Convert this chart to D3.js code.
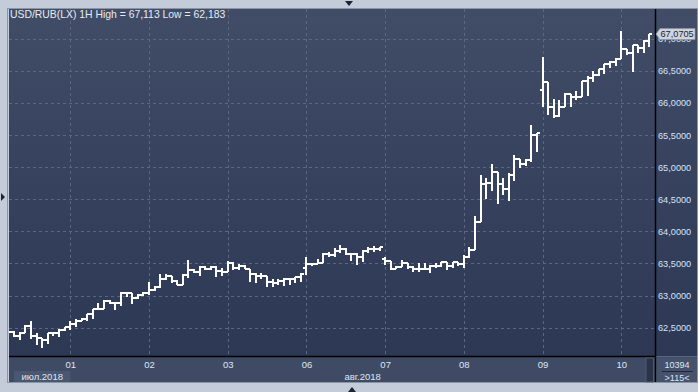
<!DOCTYPE html>
<html><head><meta charset="utf-8">
<script src="https://cdn.jsdelivr.net/npm/d3@7"></script>
<style>html,body{margin:0;padding:0;background:#c3ccd8;overflow:hidden}svg{display:block}</style>
</head><body>
<svg id="c" width="698" height="392"></svg>
<script>
const titleText = "USD/RUB(LX) 1H High = 67,113 Low = 62,183";
const opens = [62.440,62.438,62.371,62.423,62.527,62.371,62.335,62.309,62.413,62.423,
62.465,62.506,62.558,62.610,62.631,62.709,62.787,62.787,62.921,62.880,
62.880,63.036,63.036,62.958,63.009,63.036,63.087,63.139,63.253,63.305,
63.232,63.170,63.325,63.398,63.372,63.440,63.414,63.450,63.388,63.372,
63.503,63.425,63.461,63.414,63.336,63.305,63.305,63.217,63.201,63.232,
63.253,63.253,63.284,63.425,63.487,63.492,63.503,63.647,63.632,63.699,
63.720,63.647,63.647,63.596,63.699,63.720,63.720,63.565,63.538,63.409,
63.440,63.503,63.440,63.414,63.414,63.414,63.466,63.466,63.528,63.466,
63.518,63.487,63.606,63.710,64.141,64.732,64.748,64.929,64.732,64.654,
64.877,65.121,65.044,65.110,65.500,66.195,66.329,65.931,65.795,65.940,
66.138,66.096,66.096,66.345,66.382,66.433,66.522,66.605,66.641,66.678,
66.833,66.771,66.900,66.849,66.967];
const highs = [62.460,62.445,62.438,62.538,62.604,62.413,62.345,62.423,62.434,62.475,
62.516,62.604,62.631,62.647,62.720,62.790,62.880,62.931,62.931,62.906,
63.061,63.061,63.046,63.025,63.056,63.207,63.150,63.336,63.336,63.305,
63.240,63.336,63.554,63.420,63.461,63.461,63.466,63.466,63.425,63.539,
63.528,63.487,63.476,63.414,63.347,63.357,63.305,63.258,63.253,63.279,
63.269,63.295,63.347,63.596,63.512,63.565,63.668,63.683,63.736,63.788,
63.736,63.668,63.668,63.710,63.761,63.772,63.761,63.606,63.538,63.461,
63.554,63.503,63.461,63.503,63.503,63.476,63.503,63.528,63.528,63.518,
63.518,63.632,63.761,64.239,64.877,64.826,65.048,64.929,64.826,64.903,
65.188,65.121,65.121,65.655,65.535,66.718,66.329,66.060,66.044,66.158,
66.138,66.189,66.345,66.418,66.500,66.527,66.605,66.656,66.693,67.113,
66.833,66.900,66.900,66.978,67.072];
const lows = [62.420,62.357,62.309,62.413,62.320,62.231,62.183,62.247,62.371,62.351,
62.444,62.465,62.506,62.600,62.610,62.636,62.776,62.787,62.869,62.776,
62.838,62.983,62.869,62.947,62.998,63.009,63.067,63.113,63.243,63.201,
63.160,63.165,63.269,63.350,63.305,63.400,63.395,63.295,63.305,63.360,
63.398,63.398,63.409,63.207,63.191,63.253,63.129,63.129,63.165,63.150,
63.165,63.201,63.217,63.321,63.461,63.487,63.503,63.596,63.606,63.658,
63.632,63.544,63.476,63.528,63.668,63.683,63.699,63.476,63.398,63.409,
63.440,63.409,63.372,63.372,63.398,63.357,63.425,63.440,63.398,63.425,
63.461,63.425,63.580,63.710,64.141,64.499,64.633,64.421,64.566,64.477,
64.788,64.991,65.017,65.084,65.240,65.940,65.811,65.760,65.785,65.931,
65.931,66.044,66.096,66.107,66.329,66.418,66.449,66.538,66.574,66.678,
66.745,66.485,66.771,66.781,66.874];
const closes = [62.438,62.371,62.423,62.527,62.371,62.335,62.309,62.413,62.423,62.465,
62.506,62.558,62.610,62.631,62.709,62.787,62.787,62.921,62.880,62.880,
63.036,63.036,62.958,63.009,63.036,63.087,63.139,63.253,63.305,63.232,
63.170,63.325,63.398,63.372,63.440,63.414,63.450,63.388,63.372,63.503,
63.425,63.461,63.414,63.336,63.305,63.305,63.217,63.201,63.232,63.253,
63.253,63.284,63.336,63.487,63.492,63.503,63.647,63.632,63.699,63.720,
63.647,63.647,63.596,63.699,63.720,63.720,63.751,63.538,63.409,63.440,
63.503,63.440,63.414,63.414,63.414,63.466,63.466,63.528,63.466,63.518,
63.487,63.606,63.710,64.141,64.732,64.748,64.929,64.732,64.654,64.877,
65.121,65.044,65.110,65.500,65.526,66.329,65.931,65.795,65.940,66.138,
66.096,66.096,66.345,66.382,66.433,66.522,66.605,66.641,66.678,66.833,
66.771,66.900,66.849,66.967,67.0705];
const dayStart = [11,25,39,53,67,81,95,109];
const dayLabels = ["01","02","03","06","07","08","09","10"];
const monthLabels = ["июл.2018","авг.2018"];
const yTicks = [62.5,63,63.5,64,64.5,65,65.5,66,66.5,67];
const lastPrice = 67.0705;
const barCountLabel = "10394";
const visibleLabel = ">115<";

const W = 698, H = 392;
const pL = 9, pT = 9, pR = 655, pB = 356.5;
const svg = d3.select("#c");
const FONT = "'Liberation Sans', Arial, sans-serif";

const defs = svg.append("defs");
const g1 = defs.append("linearGradient").attr("id","bg").attr("x1",0).attr("y1",0).attr("x2",0).attr("y2",1);
g1.append("stop").attr("offset","0%").attr("stop-color","#414d67");
g1.append("stop").attr("offset","100%").attr("stop-color","#2c3854");
defs.append("clipPath").attr("id","clip").append("rect")
  .attr("x",pL).attr("y",pT).attr("width",pR-pL).attr("height",pB-pT);

// frame
svg.append("rect").attr("width",W).attr("height",H).attr("fill","#c3ccd8");
svg.append("rect").attr("x",pL).attr("y",pT).attr("width",697-pL).attr("height",pB-pT).attr("fill","url(#bg)");
svg.append("rect").attr("x",pL).attr("y",pB).attr("width",697-pL).attr("height",382-pB).attr("fill","#3f4b65");
svg.append("rect").attr("x",7.5).attr("y",8.5).attr("width",690).attr("height",374).attr("fill","none").attr("stroke","#8a95a6").attr("stroke-width",1);

const x = d3.scaleLinear().domain([0,114]).range([8.46,649.4]);
const y = d3.scaleLinear().domain([62.5,67]).range([327.7,38.6]);

// grid
const grid = svg.append("g");
grid.selectAll("line.h").data(yTicks).join("line")
  .attr("x1",pL).attr("x2",pR).attr("y1",d=>Math.round(y(d))+0.5).attr("y2",d=>Math.round(y(d))+0.5)
  .attr("stroke","#5b6781").attr("stroke-width",1).attr("stroke-dasharray","3,3");
grid.selectAll("line.v").data(dayStart).join("line")
  .attr("y1",pT).attr("y2",pB).attr("x1",d=>Math.round(x(d))+0.5).attr("x2",d=>Math.round(x(d))+0.5)
  .attr("stroke","#5b6781").attr("stroke-width",1).attr("stroke-dasharray","3,3");

// OHLC bars
const bars = svg.append("g").attr("clip-path","url(#clip)").attr("stroke","#ffffff")
  .attr("stroke-width",2).attr("fill","none").attr("shape-rendering","crispEdges");
const idx = d3.range(closes.length);
const tick = 3;
bars.selectAll("path").data(idx).join("path")
  .attr("d", i => {
    const cx = Math.round(x(i));
    const yh = Math.round(y(highs[i])), yl = Math.round(y(lows[i]));
    const yo = Math.round(y(opens[i])), yc = Math.round(y(closes[i]));
    return `M${cx},${yh}V${Math.max(yl, yh+2)}M${cx-tick},${yo}H${cx}M${cx},${yc}H${cx+tick}`;
  });

// axis lines
svg.append("line").attr("x1",pL).attr("x2",pR+1).attr("y1",pB).attr("y2",pB).attr("stroke","#000").attr("stroke-width",1.5);
svg.append("line").attr("x1",pR+0.5).attr("x2",pR+0.5).attr("y1",pT).attr("y2",382).attr("stroke","#000").attr("stroke-width",1.5);

// y axis
const yAxis = d3.axisRight(y).tickValues(yTicks).tickSize(0).tickPadding(0)
  .tickFormat(d => d.toFixed(4).replace(".", ","));
const ya = svg.append("g").attr("transform",`translate(658,0)`).call(yAxis);
ya.select(".domain").remove();
ya.selectAll("text").attr("fill","#d6e3f7").attr("font-family",FONT).attr("font-size","9.2px").attr("dy","0.33em");

// x axis
const xAxis = d3.axisBottom(x).tickValues(dayStart).tickSize(0).tickPadding(0)
  .tickFormat((d,i) => dayLabels[i]);
const xa = svg.append("g").attr("transform",`translate(0,361)`).call(xAxis);
xa.select(".domain").remove();
xa.selectAll("text").attr("fill","#dde6f4").attr("font-family",FONT).attr("font-size","9.5px").attr("dy","0.72em");

// month labels
svg.append("rect").attr("x",x(1)).attr("y",371).attr("width",x(11)-x(1)).attr("height",11).attr("fill","#4a5770");
const monthBeg = [x(1), x(11)];
const monthEnd = [x(11), pR];
monthLabels.forEach((m,k) => {
  svg.append("text").attr("x",(monthBeg[k]+monthEnd[k])/2).attr("y",379.5).attr("text-anchor","middle")
    .attr("fill","#dde6f4").attr("font-family",FONT).attr("font-size","9.5px").text(m);
});

// scroll box
svg.append("rect").attr("x",646).attr("y",358).attr("width",7.5).attr("height",24).attr("fill","#2a3349").attr("stroke","#56627a").attr("stroke-width",0.8);
// bottom-right panel
svg.append("rect").attr("x",656.5).attr("y",357.5).attr("width",40.5).attr("height",24.5).attr("fill","#46526b");
svg.append("text").attr("x",677).attr("y",367.5).attr("text-anchor","middle").attr("fill","#dde6f4").attr("font-family",FONT).attr("font-size","9px").text(barCountLabel);
svg.append("line").attr("x1",662).attr("x2",693).attr("y1",371.5).attr("y2",371.5).attr("stroke","#1f273a").attr("stroke-width",1);
svg.append("text").attr("x",677).attr("y",380.5).attr("text-anchor","middle").attr("fill","#dde6f4").attr("font-family",FONT).attr("font-size","9px").text(visibleLabel);

// price tag
const py = y(lastPrice);
svg.append("path").attr("d",`M656,${py}L660,${py-5.5}H695V${py+5.5}H660Z`).attr("fill","#cfd4dc").attr("stroke","#8b94a4").attr("stroke-width",0.8);
svg.append("text").attr("x",660.5).attr("y",py+3.3).attr("fill","#1b2233").attr("font-family",FONT).attr("font-size","9.2px")
  .text(lastPrice.toFixed(4).replace(".", ","));

// title
svg.append("text").attr("x",10).attr("y",18).attr("fill","#e6ebf3").attr("font-family",FONT).attr("font-size","10.4px").text(titleText);

// nav triangles
svg.append("path").attr("d","M345,1H353L349,6Z").attr("fill","#1c2436");
svg.append("path").attr("d","M1,193V201L5,197Z").attr("fill","#1c2436");
svg.append("path").attr("d","M348,392H356L352,387Z").attr("fill","#1c2436");
</script>
</body></html>
